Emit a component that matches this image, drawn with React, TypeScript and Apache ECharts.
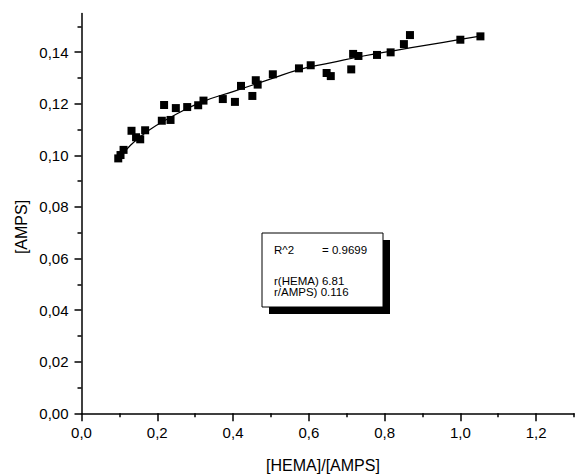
import React, { useEffect, useRef } from "react";
import * as echarts from "echarts";

const hemaAmpsRatio = [0.097, 0.103, 0.111, 0.132, 0.144, 0.155, 0.168, 0.212, 0.218, 0.235, 0.249, 0.279, 0.308, 0.322, 0.373, 0.405, 0.421, 0.451, 0.460, 0.465, 0.505, 0.574, 0.605, 0.647, 0.658, 0.712, 0.717, 0.731, 0.780, 0.816, 0.851, 0.867, 1.000, 1.053];
const ampsValues = [0.0988, 0.1001, 0.1021, 0.1095, 0.1070, 0.1062, 0.1097, 0.1134, 0.1195, 0.1137, 0.1183, 0.1187, 0.1194, 0.1212, 0.1218, 0.1207, 0.1269, 0.1230, 0.1291, 0.1274, 0.1314, 0.1337, 0.1349, 0.1319, 0.1307, 0.1333, 0.1393, 0.1385, 0.1389, 0.1399, 0.1431, 0.1466, 0.1448, 0.1461];

const fitX = [0.092, 0.13, 0.172, 0.23, 0.313, 0.40, 0.50, 0.577, 0.66, 0.744, 0.83, 0.911, 1.0, 1.06];
const fitY = [0.0976, 0.1040, 0.1091, 0.1143, 0.1204, 0.1247, 0.1296, 0.1333, 0.1359, 0.1385, 0.1407, 0.1427, 0.1449, 0.1464];

const xMajorTicks = [0, 0.2, 0.4, 0.6, 0.8, 1.0, 1.2];
const xMinorTicks = [0.1, 0.3, 0.5, 0.7, 0.9, 1.1, 1.3];
const yMajorTicks = [0, 0.02, 0.04, 0.06, 0.08, 0.1, 0.12, 0.14];
const yMinorTicks = [0.01, 0.03, 0.05, 0.07, 0.09, 0.11, 0.13, 0.15];

const fitStats = ["R^2", "= 0.9699", "r(HEMA) 6.81", "r/AMPS) 0.116"];

const FONT = "'Liberation Sans', Arial, sans-serif";

export default function App() {
  const ref = useRef<HTMLDivElement>(null);
  useEffect(() => {
    if (!ref.current) return;
    const chart = echarts.init(ref.current, null, { renderer: "svg" });
    const axisLine = { show: true, lineStyle: { color: "#000", width: 1.5 } };
    const xBase = { type: "value", min: 0, max: 1.3, gridIndex: 0, splitLine: { show: false } };
    const yBase = { type: "value", min: 0, max: 0.155, gridIndex: 0, splitLine: { show: false } };
    chart.setOption({
      animation: false,
      backgroundColor: "#fff",
      grid: { left: 81.5, right: 2, top: 13.4, bottom: 61.7 },
      xAxis: [
        {
          ...xBase,
          position: "bottom",
          axisLine,
          axisTick: { show: true, length: 8, customValues: xMajorTicks, lineStyle: { color: "#000", width: 1.5 } },
          axisLabel: {
            show: true,
            customValues: xMajorTicks,
            margin: 12,
            color: "#000",
            fontFamily: FONT,
            fontSize: 15,
            formatter: (v: number) => v.toFixed(1).replace(".", ","),
          },
        },
        {
          ...xBase,
          position: "bottom",
          axisLine: { show: false },
          axisTick: { show: true, length: 4, customValues: xMinorTicks, lineStyle: { color: "#000", width: 1.5 } },
          axisLabel: { show: false },
        },
      ],
      yAxis: [
        {
          ...yBase,
          position: "left",
          axisLine,
          axisTick: { show: true, length: 7, customValues: yMajorTicks, lineStyle: { color: "#000", width: 1.5 } },
          axisLabel: {
            show: true,
            customValues: yMajorTicks,
            margin: 13,
            color: "#000",
            fontFamily: FONT,
            fontSize: 15,
            formatter: (v: number) => v.toFixed(2).replace(".", ","),
          },
        },
        {
          ...yBase,
          position: "left",
          axisLine: { show: false },
          axisTick: { show: true, length: 4, customValues: yMinorTicks, lineStyle: { color: "#000", width: 1.5 } },
          axisLabel: { show: false },
        },
      ],
      series: [
        {
          type: "line",
          xAxisIndex: 0,
          yAxisIndex: 0,
          data: fitX.map((x, i) => [x, fitY[i]]),
          smooth: true,
          showSymbol: false,
          lineStyle: { color: "#000", width: 1.2 },
          z: 2,
        },
        {
          type: "scatter",
          xAxisIndex: 0,
          yAxisIndex: 0,
          data: hemaAmpsRatio.map((x, i) => [x, ampsValues[i]]),
          symbol: "rect",
          symbolSize: 8,
          itemStyle: { color: "#000", opacity: 1 },
          z: 3,
        },
      ],
      graphic: [
        {
          type: "text",
          x: 21,
          y: 227,
          rotation: Math.PI / 2,
          style: {
            text: "[AMPS]",
            fill: "#000",
            font: `16px ${FONT}`,
            align: "center",
            verticalAlign: "middle",
          },
        },
        {
          type: "text",
          x: 323,
          y: 465,
          style: {
            text: "[HEMA]/[AMPS]",
            fill: "#000",
            font: `16px ${FONT}`,
            align: "center",
            verticalAlign: "middle",
          },
        },
        {
          type: "group",
          x: 262,
          y: 233,
          children: [
            { type: "rect", x: 7, y: 7, shape: { width: 121, height: 74 }, style: { fill: "#000" } },
            { type: "rect", shape: { width: 121, height: 74 }, style: { fill: "#fff", stroke: "#000", lineWidth: 1 } },
            { type: "text", x: 12, y: 17, style: { text: fitStats[0], fill: "#000", font: `11.5px ${FONT}`, verticalAlign: "middle" } },
            { type: "text", x: 60, y: 17, style: { text: fitStats[1], fill: "#000", font: `11.5px ${FONT}`, verticalAlign: "middle" } },
            { type: "text", x: 12, y: 48, style: { text: fitStats[2], fill: "#000", font: `11.5px ${FONT}`, verticalAlign: "middle" } },
            { type: "text", x: 12, y: 59, style: { text: fitStats[3], fill: "#000", font: `11.5px ${FONT}`, verticalAlign: "middle" } },
          ],
        },
      ],
    });
    return () => chart.dispose();
  }, []);
  return (
    <div
      ref={ref}
      style={{ position: "fixed", left: 0, top: 0, width: 576, height: 475, background: "#fff" }}
    />
  );
}
